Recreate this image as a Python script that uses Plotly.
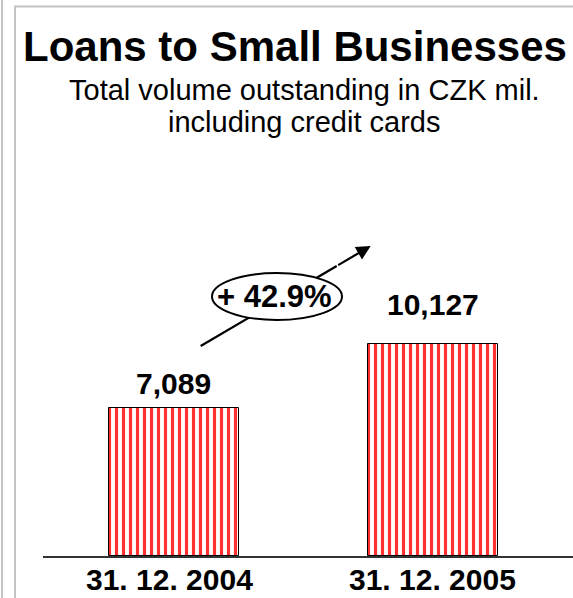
import plotly.graph_objects as go

# Chart data
dates = ["31. 12. 2004", "31. 12. 2005"]
volumes = [7089, 10127]  # CZK mil.

title = "Loans to Small Businesses"
subtitle_lines = ["Total volume outstanding in CZK mil.", "including credit cards"]

FONT = "Liberation Sans, Arial, sans-serif"
W, H = 573, 598
M_L, M_R, M_T, M_B = 43, 0, 150, 42
PLOT_W = W - M_L - M_R
PLOT_H = H - M_T - M_B

X_RANGE = [-0.504, 1.542]
Y_RANGE = [0, 19426]


def px_to_x(px):
    return X_RANGE[0] + (px - M_L) / PLOT_W * (X_RANGE[1] - X_RANGE[0])


def px_to_y(py):
    return Y_RANGE[0] + (M_T + PLOT_H - py) / PLOT_H * (Y_RANGE[1] - Y_RANGE[0])


def paper_x(px):
    return (px - M_L) / PLOT_W


def paper_y(py):
    return (M_T + PLOT_H - py) / PLOT_H


xs = list(range(len(dates)))

fig = go.Figure()
fig.add_trace(go.Bar(
    x=xs,
    y=volumes,
    width=0.502,
    marker=dict(
        color="white",
        line=dict(color="black", width=1),
        pattern=dict(shape="|", fgcolor="#ff3030", bgcolor="white",
                     size=7, solidity=0.45, fillmode="replace"),
    ),
    hoverinfo="skip",
    showlegend=False,
))

annotations = []

# Title and subtitle
annotations.append(dict(
    text=f"<b>{title}</b>", xref="paper", yref="paper",
    x=paper_x(295), y=paper_y(47), xanchor="center", yanchor="middle",
    showarrow=False, font=dict(family=FONT, size=42, color="black"),
))
for line, cy in zip(subtitle_lines, [90, 122]):
    annotations.append(dict(
        text=line, xref="paper", yref="paper",
        x=paper_x(304), y=paper_y(cy), xanchor="center", yanchor="middle",
        showarrow=False, font=dict(family=FONT, size=29, color="black"),
    ))

# Value labels above bars
label_offsets = [24, 40]
for xi, v, off in zip(xs, volumes, label_offsets):
    annotations.append(dict(
        text=f"<b>{v:,}</b>", x=xi, y=v, xref="x", yref="y",
        xanchor="center", yanchor="middle", yshift=off,
        showarrow=False, font=dict(family=FONT, size=30, color="black"),
    ))

# Category labels under the baseline
label_dx = [-4, 0]
for xi, d, dx in zip(xs, dates, label_dx):
    annotations.append(dict(
        text=f"<b>{d}</b>", x=xi, xref="x", y=paper_y(579), yref="paper",
        xanchor="center", yanchor="middle", xshift=dx,
        showarrow=False, font=dict(family=FONT, size=30, color="black"),
    ))

# Growth arrow head (shaft drawn as a shape beneath the ellipse)
tail = (200.7, 346)
tip = (370.7, 246)
t = 0.8
mid = (tail[0] + t * (tip[0] - tail[0]), tail[1] + t * (tip[1] - tail[1]))
annotations.append(dict(
    text="", x=px_to_x(tip[0]), y=px_to_y(tip[1]), xref="x", yref="y",
    ax=px_to_x(mid[0]), ay=px_to_y(mid[1]), axref="x", ayref="y",
    showarrow=True, arrowhead=2, arrowsize=1.3, arrowwidth=2.2,
    arrowcolor="black",
))

growth = (volumes[1] / volumes[0] - 1) * 100
annotations.append(dict(
    text=f"<b>+ {growth:.1f}%</b>", x=px_to_x(274), y=px_to_y(296),
    xref="x", yref="y", xanchor="center", yanchor="middle",
    showarrow=False, font=dict(family=FONT, size=31, color="black"),
))

shapes = [
    # arrow shaft
    dict(type="line", xref="x", yref="y",
         x0=px_to_x(tail[0]), y0=px_to_y(tail[1]),
         x1=px_to_x(mid[0]), y1=px_to_y(mid[1]),
         line=dict(color="black", width=2.2)),
    # ellipse around the growth figure
    dict(type="circle", xref="x", yref="y",
         x0=px_to_x(212), x1=px_to_x(342), y0=px_to_y(320), y1=px_to_y(273),
         fillcolor="white", line=dict(color="black", width=2)),
    # slide frame
    dict(type="line", xref="paper", yref="paper",
         x0=paper_x(2), x1=paper_x(2), y0=paper_y(0), y1=paper_y(H),
         line=dict(color="#c4c4c4", width=2)),
    dict(type="line", xref="paper", yref="paper",
         x0=paper_x(15), x1=paper_x(15), y0=paper_y(6), y1=paper_y(H),
         line=dict(color="#c4c4c4", width=2)),
    dict(type="line", xref="paper", yref="paper",
         x0=paper_x(14), x1=paper_x(W), y0=paper_y(6.5), y1=paper_y(6.5),
         line=dict(color="#c4c4c4", width=2)),
]

fig.update_layout(
    width=W, height=H,
    margin=dict(l=M_L, r=M_R, t=M_T, b=M_B, autoexpand=False),
    paper_bgcolor="white", plot_bgcolor="white",
    font=dict(family=FONT, color="black"),
    annotations=annotations,
    shapes=shapes,
    xaxis=dict(
        range=X_RANGE, tickvals=xs, showticklabels=False,
        showgrid=False, zeroline=False, showline=True,
        linecolor="#333333", linewidth=1.5, ticks="", fixedrange=True,
    ),
    yaxis=dict(range=Y_RANGE, visible=False, fixedrange=True),
    bargap=0,
)

fig.write_html("out.html")
